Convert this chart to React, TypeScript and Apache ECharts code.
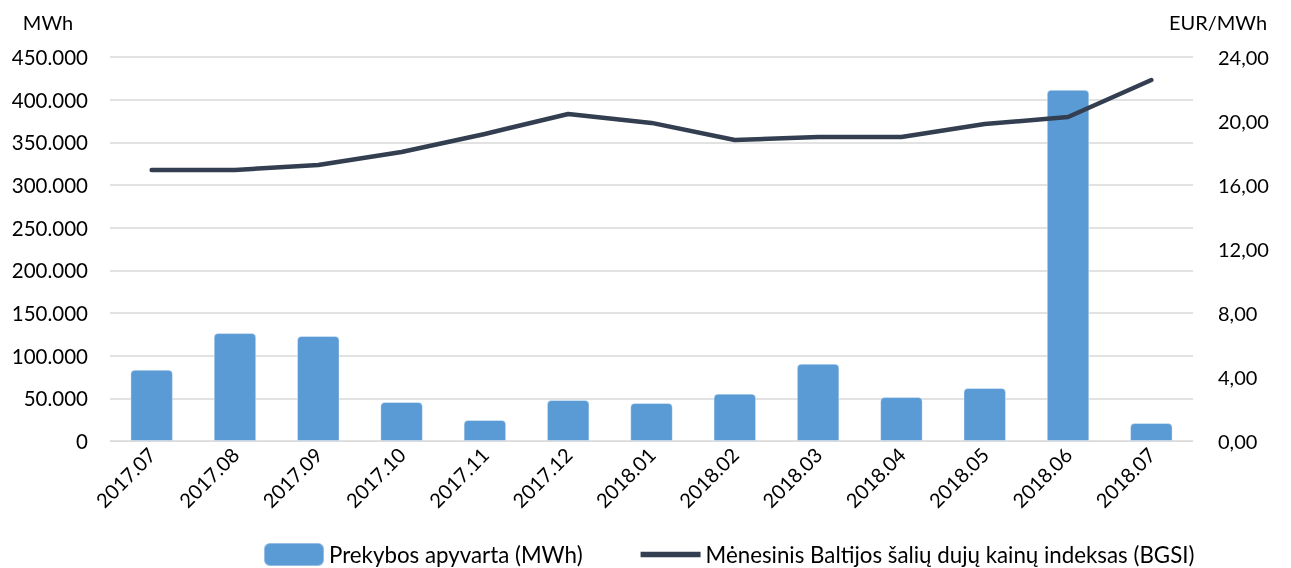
import React, { useEffect, useRef } from "react";
import * as echarts from "echarts";

const categories = ["2017.07", "2017.08", "2017.09", "2017.10", "2017.11", "2017.12", "2018.01", "2018.02", "2018.03", "2018.04", "2018.05", "2018.06", "2018.07"];
const turnover = [83500, 126500, 123000, 45700, 24600, 48000, 44500, 55500, 90500, 51500, 62100, 411500, 21100];
const bgsi = [16.94, 16.94, 17.25, 18.06, 19.19, 20.44, 19.88, 18.81, 19.0, 19.0, 19.81, 20.25, 22.56];
const barName = "Prekybos apyvarta (MWh)";
const lineName = "Mėnesinis Baltijos šalių dujų kainų indeksas (BGSI)";
const leftUnit = "MWh";
const rightUnit = "EUR/MWh";

const FONT = "Lato";

export default function App() {
  const ref = useRef<HTMLDivElement>(null);
  useEffect(() => {
    const chart = echarts.init(ref.current!, null, { renderer: "svg" });
    chart.setOption({
      animation: false,
      textStyle: { fontFamily: FONT },
      grid: { left: 110, right: 98, top: 57, bottom: 127 },
      graphic: [
        { type: "text", x: 48, y: 22, style: { text: leftUnit, font: `20px ${FONT}`, fill: "#000", align: "center", verticalAlign: "middle" } },
        { type: "text", x: 1218, y: 22, style: { text: rightUnit, font: `20px ${FONT}`, fill: "#000", align: "center", verticalAlign: "middle" } },
      ],
      legend: {
        top: 537,
        left: 258,
        itemGap: 58,
        itemWidth: 60,
        itemHeight: 23,
        textStyle: { fontFamily: FONT, fontSize: 22.3, color: "#000" },
        data: [
          { name: barName, icon: "roundRect" },
          { name: lineName, icon: "path://M0,0 L57,0 L57,5 L0,5 Z" },
        ],
      },
      xAxis: {
        type: "category",
        data: categories,
        z: 5,
        axisTick: { show: false },
        axisLine: { lineStyle: { color: "rgba(217,217,217,0.7)", width: 1 } },
        axisLabel: { rotate: 45, fontSize: 20, color: "#000", fontFamily: FONT, margin: 10 },
      },
      yAxis: [
        {
          type: "value",
          min: 0,
          max: 450000,
          interval: 50000,
          axisLine: { show: false },
          axisTick: { show: false },
          splitLine: { lineStyle: { color: "#d9d9d9", width: 1.5 } },
          axisLabel: {
            fontSize: 20.5,
            color: "#000",
            fontFamily: FONT,
            margin: 22,
            formatter: (v: number) => (v === 0 ? "0" : (v / 1000).toFixed(0) + ".000"),
          },
        },
        {
          type: "value",
          min: 0,
          max: 24,
          interval: 4,
          axisLine: { show: false },
          axisTick: { show: false },
          splitLine: { show: false },
          axisLabel: {
            fontSize: 20,
            color: "#000",
            fontFamily: FONT,
            margin: 25,
            formatter: (v: number) => v.toFixed(2).replace(".", ","),
          },
        },
      ],
      series: [
        {
          name: barName,
          type: "bar",
          data: turnover,
          yAxisIndex: 0,
          barWidth: "51%",
          itemStyle: { color: "#5b9bd5", borderRadius: [4, 4, 0, 0], borderColor: "rgba(255,255,255,0.35)", borderWidth: 1 },
        },
        {
          name: lineName,
          type: "line",
          data: bgsi,
          yAxisIndex: 1,
          symbol: "none",
          lineStyle: { color: "#333f50", width: 4.5, cap: "round", join: "round" },
          itemStyle: { color: "#333f50" },
        },
      ],
    });
    return () => chart.dispose();
  }, []);
  return <div ref={ref} style={{ position: "fixed", left: 0, top: 0, width: 1291, height: 568 }} />;
}
